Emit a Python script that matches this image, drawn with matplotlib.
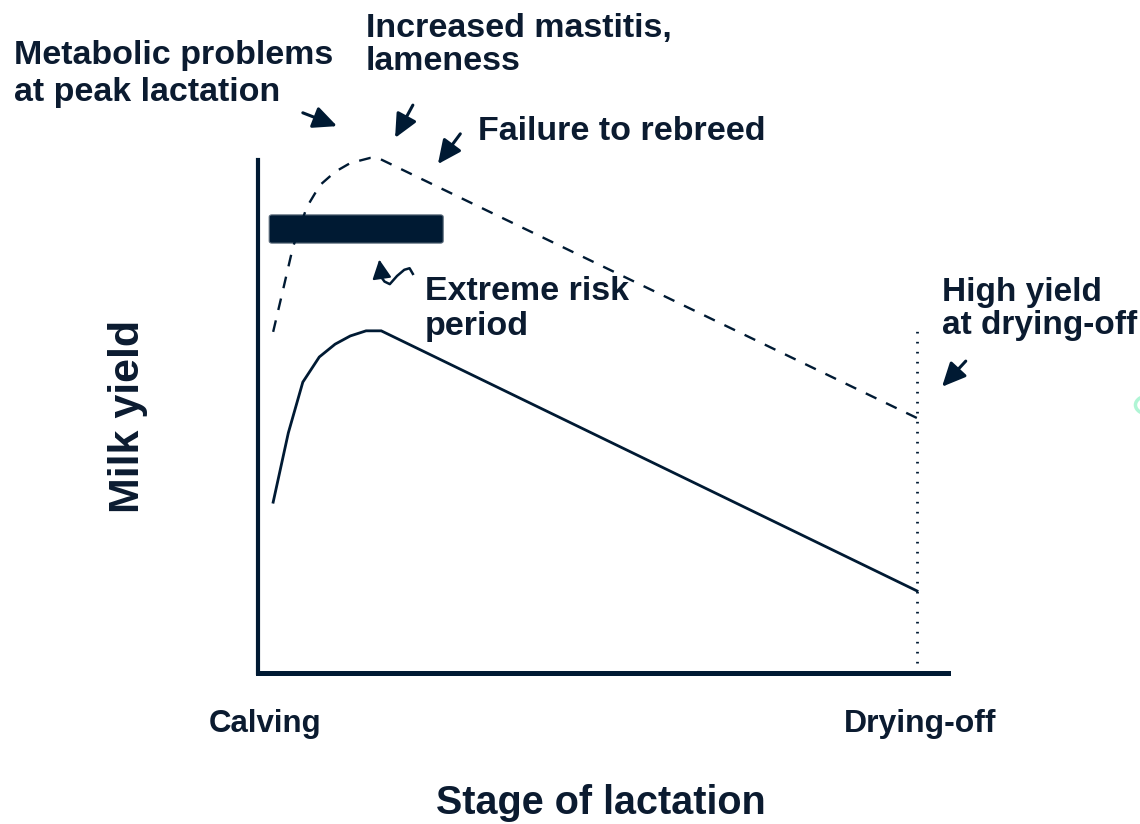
import matplotlib
matplotlib.use("Agg")
import matplotlib.pyplot as plt
from matplotlib.patches import FancyBboxPatch, Circle

# Lactation stage (0 = calving, 100 = drying-off) and relative milk yield
stage_normal = [2.3, 4.6, 6.8, 9.3, 11.7, 14.0, 16.4, 18.7, 100.0]
yield_normal = [33.3, 46.8, 56.7, 61.6, 64.1, 65.7, 66.7, 66.7, 16.0]

stage_high = [2.3, 3.8, 5.3, 7.4, 9.4, 11.7, 14.0, 17.0, 18.2, 100.0]
yield_high = [66.5, 74.7, 83.0, 90.8, 95.1, 97.7, 99.4, 100.4, 100.4, 49.7]

dry_off_stage = 100.0
dry_off_top = 67.8

# extreme risk period (stage range, yield band)
risk_start, risk_end = 1.7, 28.1
risk_low, risk_high = 83.8, 89.3

# annotation arrows: (tail, tip)
arrows = [
    ((6.8, 109.2), (12.0, 106.6)),   # metabolic problems
    ((23.5, 110.7), (20.8, 104.3)),  # mastitis, lameness
    ((30.7, 105.1), (27.3, 99.2)),   # failure to rebreed
    ((107.4, 60.8), (103.8, 55.8)),  # high yield at drying-off
]
wave_x = [23.5, 23.0, 22.2, 21.1, 20.0, 19.2, 18.8]
wave_y = [77.8, 78.9, 78.6, 77.4, 75.8, 76.3, 77.0]
wave_tip = (18.4, 80.6)

navy = "#001a33"
txt = "#0b1b30"
plt.rcParams['font.family'] = ['Liberation Sans', 'DejaVu Sans']

fig = plt.figure(figsize=(11.4, 8.24), dpi=100)
ax = fig.add_axes([258 / 1140, (824 - 673) / 824, (948 - 258) / 1140, (673 - 160) / 824])
ax.set_xlim(0, (948 - 258) / 6.59)
ax.set_ylim(0, 100)

ax.plot(stage_normal, yield_normal, color=navy, lw=2.0, solid_joinstyle='miter')
ax.plot(stage_high, yield_high, color=navy, lw=1.7, dashes=(5, 4.5), clip_on=False)
ax.plot([dry_off_stage, dry_off_stage], [0, dry_off_top], color=navy, lw=2.0,
        linestyle=(0, (0.6, 3.0)), dash_capstyle='butt')

bar = FancyBboxPatch((risk_start, risk_low), risk_end - risk_start, risk_high - risk_low,
                     boxstyle="round,pad=0,rounding_size=0.4", facecolor=navy,
                     edgecolor="#5a6a7a", lw=0.8, clip_on=False)
ax.add_patch(bar)

for tail, tip in arrows:
    ax.annotate("", xy=tip, xytext=tail, annotation_clip=False,
                arrowprops=dict(arrowstyle="-|>,head_length=0.9,head_width=0.42",
                                color=navy, lw=2.2, shrinkA=0, shrinkB=0,
                                mutation_scale=16))

ax.plot(wave_x, wave_y, color=navy, lw=1.8, clip_on=False)
ax.annotate("", xy=wave_tip, xytext=(wave_x[-1], wave_y[-1]), annotation_clip=False,
            arrowprops=dict(arrowstyle="-|>,head_length=0.9,head_width=0.45",
                            color=navy, lw=1.5, shrinkA=0, shrinkB=0,
                            mutation_scale=13))

for s in ['top', 'right']:
    ax.spines[s].set_visible(False)
ax.spines['left'].set_linewidth(3.0)
ax.spines['bottom'].set_linewidth(3.6)
ax.spines['left'].set_color(navy)
ax.spines['bottom'].set_color(navy)
ax.set_xticks([])
ax.set_yticks([])


def ftext(px, py, s, **kw):
    fig.text(px / 1140, 1 - py / 824, s, color=txt, fontweight='bold', **kw)


ann = 24.5
ftext(14, 74, "Metabolic problems\nat peak lactation", fontsize=ann, va='center',
      ha='left', linespacing=1.24)
ftext(366, 45, "Increased mastitis,\nlameness", fontsize=ann, va='center',
      ha='left', linespacing=1.05)
ftext(478, 131, "Failure to rebreed", fontsize=ann, va='center', ha='left')
ftext(425, 309, "Extreme risk\nperiod", fontsize=ann, va='center', ha='left',
      linespacing=1.2)
ftext(942, 309, "High yield\nat drying-off", fontsize=24, va='center', ha='left',
      linespacing=1.05)
ftext(128, 416, "Milk yield", fontsize=31, va='center', ha='center', rotation=90)
ftext(265, 724, "Calving", fontsize=22.5, va='center', ha='center')
ftext(920, 724, "Drying-off", fontsize=23, va='center', ha='center')
ftext(601, 803, "Stage of lactation", fontsize=28.5, va='center', ha='center')

fig.patches.append(Circle((1148 / 1140, 1 - 405 / 824), 0.011, transform=fig.transFigure,
                          facecolor='none', edgecolor='#b0f5d5', lw=2.5))

fig.savefig("out.png", dpi=100, facecolor='white')
